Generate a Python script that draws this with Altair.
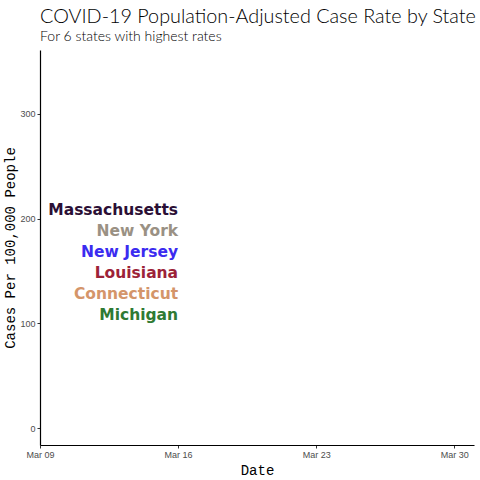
import altair as alt
import pandas as pd

states = ["Massachusetts", "New York", "New Jersey", "Louisiana", "Connecticut", "Michigan"]
label_y = [208, 188, 168, 148, 128, 108]
label_date = ["2020-03-16"] * 6
colors = ["#2b0f35", "#9a9184", "#3b2bf0", "#9c2238", "#d4956a", "#2f7a33"]
y_ticks = [0, 100, 200, 300]
x_ticks = ["2020-03-09", "2020-03-16", "2020-03-23", "2020-03-30"]

df = pd.DataFrame({"state": states, "y": label_y, "date": label_date})

x_scale = alt.Scale(domain=["2020-03-09T00:00:00Z", "2020-03-31T00:00:00Z"], type="utc")
y_scale = alt.Scale(domain=[-16, 361], nice=False, zero=False)

chart = alt.Chart(df).mark_text(
    align="right", baseline="middle", fontWeight="bold", fontSize=15.5, font="DejaVu Sans"
).encode(
    x=alt.X("date:T", scale=x_scale,
            axis=alt.Axis(title="Date", format="%b %d", labelFlush=False,
                          values=[pd.Timestamp(d).isoformat() + "Z" for d in x_ticks])),
    y=alt.Y("y:Q", scale=y_scale, axis=alt.Axis(title="Cases Per 100,000 People", values=y_ticks)),
    color=alt.Color("state:N", scale=alt.Scale(domain=states, range=colors), legend=None),
    text="state:N",
).properties(
    width=434, height=395,
    autosize=alt.AutoSizeParams(type="none"),
    padding={"left": 40, "top": 50, "right": 6, "bottom": 35},
    title=alt.TitleParams(
        "COVID-19 Population-Adjusted Case Rate by State",
        subtitle="For 6 states with highest rates",
        anchor="start", frame="group", font="Lato", fontWeight=300, fontSize=19.8,
        color="#000000", subtitleFont="Lato", subtitleFontSize=14, subtitleFontWeight=300,
        subtitleColor="#000000", subtitlePadding=3, offset=6,
    ),
).configure_view(stroke=None).configure_axis(
    grid=False, domainColor="#000000", domainWidth=1.2, tickColor="#333333", tickSize=3,
    labelFont="Liberation Sans", labelFontSize=9, labelColor="#4d4d4d", labelPadding=2,
    titleFont="Liberation Mono", titleFontSize=14, titleFontWeight="normal", titleColor="#000000",
).configure_axisX(labelAngle=0, titlePadding=4).configure_axisY(titlePadding=2)

chart.save("out.html", embed_options={"renderer": "svg", "actions": False})
